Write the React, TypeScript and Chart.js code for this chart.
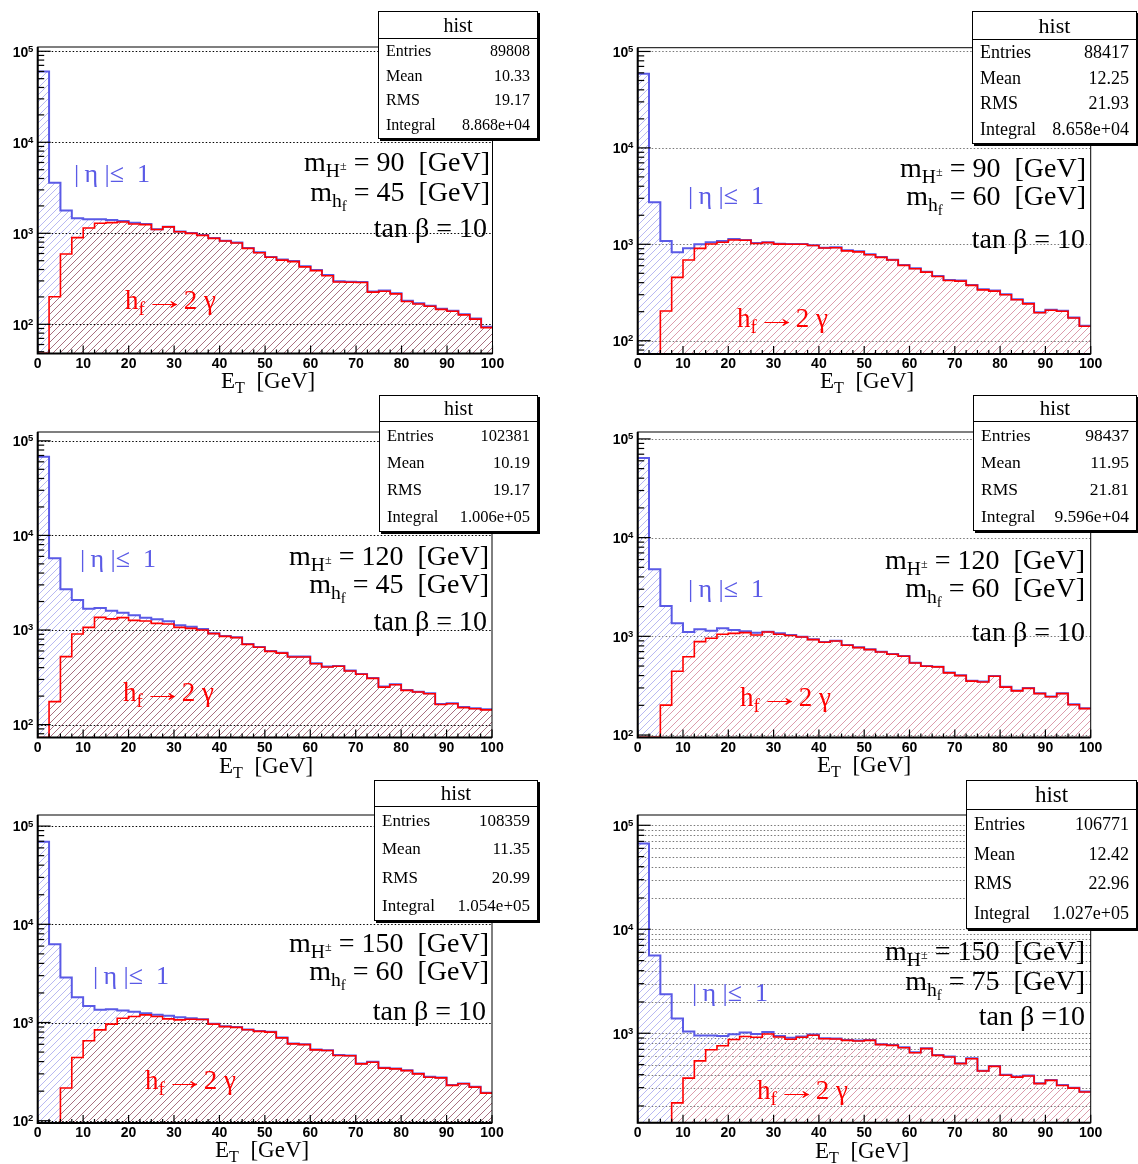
import React, { useEffect, useRef } from 'react';
import { Chart, registerables } from 'chart.js';

Chart.register(...registerables);

// ---------------- data ----------------
const binEdges = [0, 2.5, 5, 7.5, 10, 12.5, 15, 17.5, 20, 22.5, 25, 27.5, 30, 32.5, 35, 37.5, 40, 42.5, 45, 47.5, 50,
  52.5, 55, 57.5, 60, 62.5, 65, 67.5, 70, 72.5, 75, 77.5, 80, 82.5, 85, 87.5, 90, 92.5, 95, 97.5, 100];
const xTickValues = [0, 10, 20, 30, 40, 50, 60, 70, 80, 90, 100];
const xTickLabels = ['0', '10', '20', '30', '40', '50', '60', '70', '80', '90', '100'];
const yDecadeExps = [1, 2, 3, 4, 5];

// |eta| <= 1 (blue) and h_f -> 2 gamma (red), entries per 2.5 GeV bin
const blue1 = [59800, 3600, 1775, 1462, 1425, 1425, 1400, 1366, 1310, 1266, 1106, 1184, 1050, 1008, 958, 889, 830, 790, 690, 620,
  550, 515, 495, 435, 395, 348, 297, 294, 292, 229, 235, 219, 181, 170, 160, 148, 141, 129, 116, 94];
const red1 = [48, 201, 593, 896, 1144, 1288, 1310, 1330, 1266, 1245, 1100, 1178, 1040, 998, 950, 880, 822, 782, 683, 612,
  545, 508, 488, 428, 389, 342, 292, 290, 288, 226, 231, 216, 178, 167, 158, 146, 139, 127, 114, 92];

const blue2 = [58600, 2730, 1083, 826, 908, 1000, 1049, 1083, 1136, 1109, 1030, 1050, 1016, 1010, 1010, 980, 923, 931, 865, 845,
  787, 739, 693, 610, 563, 520, 469, 426, 420, 379, 341, 331, 303, 269, 244, 197, 210, 204, 174, 143];
const red2 = [73, 73, 203, 454, 687, 908, 1008, 1049, 1109, 1100, 1020, 1040, 1005, 1000, 1000, 970, 915, 920, 855, 835,
  780, 732, 686, 604, 557, 514, 464, 421, 415, 375, 337, 327, 300, 266, 241, 195, 207, 202, 172, 141];

const blue3 = [68000, 5720, 2690, 2075, 1680, 1710, 1600, 1524, 1430, 1350, 1296, 1235, 1120, 1085, 1025, 922, 864, 837, 711, 662,
  600, 576, 523, 523, 445, 410, 417, 372, 343, 311, 252, 267, 232, 223, 214, 165, 168, 153, 149, 145];
const red3 = [73, 175, 523, 907, 1067, 1361, 1310, 1350, 1265, 1245, 1176, 1157, 1067, 1041, 1000, 915, 857, 830, 705, 656,
  594, 570, 518, 518, 440, 406, 413, 368, 340, 308, 249, 264, 230, 221, 212, 163, 166, 151, 147, 143];

const blue4 = [64000, 4770, 2028, 1355, 1107, 1178, 1141, 1205, 1160, 1124, 1090, 1115, 1072, 1031, 992, 932, 876, 904, 817, 774,
  738, 699, 662, 632, 541, 501, 493, 429, 403, 355, 348, 397, 309, 282, 300, 265, 246, 265, 205, 187];
const red4 = [95, 95, 201, 442, 622, 883, 955, 1048, 1072, 1090, 1031, 1107, 1048, 1020, 985, 925, 870, 898, 812, 769,
  733, 694, 658, 628, 537, 498, 490, 426, 400, 352, 345, 394, 306, 280, 297, 263, 244, 263, 203, 185];

const blue5 = [69300, 6270, 2870, 1810, 1476, 1345, 1366, 1325, 1284, 1244, 1197, 1169, 1133, 1107, 1081, 969, 915, 900, 850, 820,
  805, 704, 612, 602, 532, 523, 466, 462, 383, 398, 346, 340, 327, 303, 280, 276, 231, 240, 222, 193];
const red5 = [95, 95, 215, 441, 651, 841, 962, 1107, 1151, 1197, 1151, 1090, 1064, 1081, 1075, 962, 908, 893, 843, 813,
  798, 698, 606, 596, 527, 518, 462, 458, 379, 394, 343, 337, 324, 300, 277, 273, 229, 238, 220, 191];

const blue6 = [67000, 5610, 2376, 1384, 1040, 950, 950, 943, 980, 1015, 985, 1030, 940, 905, 929, 975, 895, 889, 863, 850,
  863, 784, 772, 733, 656, 718, 619, 597, 515, 575, 437, 485, 398, 383, 392, 331, 356, 318, 300, 275];
const red6 = [138, 138, 138, 214, 370, 543, 695, 758, 870, 930, 915, 985, 922, 875, 915, 956, 885, 880, 855, 842,
  855, 777, 765, 726, 650, 711, 613, 591, 510, 569, 433, 480, 394, 379, 388, 328, 352, 315, 297, 272];

const blueSeries = [blue1, blue2, blue3, blue4, blue5, blue6];
const redSeries = [red1, red2, red3, red4, red5, red6];

const yMins = [47.8, 72.8, 73, 94.4, 94.8, 138];
const yMaxs = [111400, 109400, 124000, 117500, 129700, 125600];

const statEntries = ['89808', '88417', '102381', '98437', '108359', '106771'];
const statMean = ['10.33', '12.25', '10.19', '11.95', '11.35', '12.42'];
const statRMS = ['19.17', '21.93', '19.17', '21.81', '20.99', '22.96'];
const statIntegral = ['8.868e+04', '8.658e+04', '1.006e+05', '9.596e+04', '1.054e+05', '1.027e+05'];
const massHc = ['90', '90', '120', '120', '150', '150'];
const massHf = ['45', '60', '45', '60', '60', '75'];
const tanBetaText = ['tan β = 10', 'tan β = 10', 'tan β = 10', 'tan β = 10', 'tan β = 10', 'tan β =10'];

// ---------------- layout ----------------
const W = 1138, H = 1164, PW = 569, PH = 388;
const frames = [
  { l: 37.7, r: 492.5, t: 47, b: 353.5 },
  { l: 637.7, r: 1090.7, t: 47.7, b: 354 },
  { l: 37.7, r: 492, t: 432, b: 737.5 },
  { l: 637.7, r: 1090.7, t: 432, b: 737.5 },
  { l: 37.7, r: 492, t: 815, b: 1123 },
  { l: 637.7, r: 1090.7, t: 815, b: 1122.7 },
];
const statBoxes = [
  { x: 378, y: 10.5, w: 160, h: 128, hh: 26, fs: 16, hfs: 20 },
  { x: 972, y: 10.5, w: 165, h: 133, hh: 27, fs: 18, hfs: 22 },
  { x: 379, y: 395, w: 159, h: 137, hh: 25, fs: 16.5, hfs: 20 },
  { x: 973, y: 395, w: 164, h: 136, hh: 25, fs: 17.5, hfs: 21 },
  { x: 374, y: 780, w: 164, h: 141, hh: 25, fs: 17, hfs: 21 },
  { x: 966, y: 780, w: 171, h: 149, hh: 28, fs: 18, hfs: 23 },
];
// [right edge, baseline] for mass lines; [left, baseline] for labels
const textPos = [
  { mH: [490, 171], mh: [490, 201], tan: [487, 237], eta: [74, 183], hf: [125, 310], et: [221, 388] },
  { mH: [1086, 177], mh: [1086, 205], tan: [1085, 248], eta: [688, 205], hf: [737, 328], et: [820, 388] },
  { mH: [489, 565], mh: [489, 593], tan: [487, 630], eta: [80, 568], hf: [123, 702], et: [219, 773] },
  { mH: [1085, 569], mh: [1085, 597], tan: [1085, 641], eta: [688, 598], hf: [740, 707], et: [817, 772] },
  { mH: [489, 952], mh: [489, 980], tan: [486, 1020], eta: [93, 985], hf: [145, 1090], et: [215, 1157] },
  { mH: [1085, 960], mh: [1085, 990], tan: [1085, 1025], eta: [692, 1002], hf: [757, 1100], et: [815, 1158] },
];
const gridColors = ['#000', '#777', '#000', '#777', '#000', '#777'];
const redHatchColors = ['#a87080', '#dc9cac', '#a87080', '#dc9cac', '#a87080', '#dc9cac'];
const minorGrid = [false, false, false, false, false, true];

const BLUE = '#5a5ae6';
const RED = '#ff0000';
const SERIF = '"Liberation Serif", "DejaVu Serif", "Times New Roman", serif';
const SANS = '"Liberation Sans", Arial, Helvetica, sans-serif';

function makeHatch(ctx: CanvasRenderingContext2D, color: string, s: number) {
  const c = document.createElement('canvas');
  c.width = s; c.height = s;
  const g = c.getContext('2d')!;
  g.strokeStyle = color;
  g.lineWidth = 1;
  g.beginPath();
  g.moveTo(0, s); g.lineTo(s, 0);
  g.moveTo(-s, s); g.lineTo(s, -s);
  g.moveTo(0, 2 * s); g.lineTo(2 * s, 0);
  g.stroke();
  return ctx.createPattern(c, 'repeat');
}

function toPoints(vals: number[]) {
  const pts = vals.map((v, i) => ({ x: binEdges[i], y: v }));
  pts.push({ x: binEdges[binEdges.length - 1], y: vals[vals.length - 1] });
  return pts;
}

function rootPlugin(i: number) {
  return {
    id: 'rootFrame' + i,
    beforeDatasetsDraw(chart: any) {
      const { ctx, chartArea: a, scales } = chart;
      const y = scales.y;
      ctx.save();
      ctx.beginPath();
      ctx.rect(a.left, a.top, a.right - a.left, a.bottom - a.top);
      ctx.clip();
      ctx.strokeStyle = gridColors[i];
      ctx.lineWidth = 1;
      ctx.setLineDash([1.5, 2]);
      yDecadeExps.forEach((e) => {
        const mults = minorGrid[i] ? [1, 2, 3, 4, 5, 6, 7, 8, 9] : [1];
        mults.forEach((m) => {
          const v = m * Math.pow(10, e);
          if (v <= yMins[i] || v >= yMaxs[i]) return;
          const py = Math.round(y.getPixelForValue(v)) + 0.5;
          ctx.beginPath();
          ctx.moveTo(a.left, py);
          ctx.lineTo(a.right, py);
          ctx.stroke();
        });
      });
      ctx.restore();
    },
    afterDatasetsDraw(chart: any) {
      const { ctx, chartArea: a, scales } = chart;
      const x = scales.x, y = scales.y;
      ctx.save();
      ctx.strokeStyle = '#000';
      ctx.fillStyle = '#000';
      ctx.lineWidth = 1;
      ctx.strokeRect(a.left, a.top, a.right - a.left, a.bottom - a.top);
      ctx.lineWidth = 2;
      ctx.beginPath();
      ctx.moveTo(a.left, a.top); ctx.lineTo(a.left, a.bottom); ctx.lineTo(a.right, a.bottom);
      ctx.stroke();
      ctx.lineWidth = 1.2;
      yDecadeExps.forEach((e) => {
        [1, 2, 3, 4, 5, 6, 7, 8, 9].forEach((m) => {
          const v = m * Math.pow(10, e);
          if (v < yMins[i] || v > yMaxs[i]) return;
          const py = y.getPixelForValue(v);
          const len = m === 1 ? 13 : 6.5;
          ctx.beginPath();
          ctx.moveTo(a.left, py); ctx.lineTo(a.left + len, py);
          ctx.stroke();
        });
      });
      binEdges.forEach((v) => {
        const px = x.getPixelForValue(v);
        const len = v % 10 === 0 ? 8 : 4;
        ctx.beginPath();
        ctx.moveTo(px, a.bottom); ctx.lineTo(px, a.bottom - len);
        ctx.stroke();
      });
      ctx.font = 'bold 14px ' + SANS;
      ctx.textAlign = 'center';
      ctx.textBaseline = 'top';
      xTickValues.forEach((v, k) => {
        ctx.fillText(xTickLabels[k], x.getPixelForValue(v), a.bottom + 3.5);
      });
      yDecadeExps.forEach((e) => {
        const v = Math.pow(10, e);
        if (v < yMins[i] || v > yMaxs[i]) return;
        const py = y.getPixelForValue(v);
        ctx.font = 'bold 14px ' + SANS;
        ctx.textAlign = 'right';
        ctx.textBaseline = 'middle';
        ctx.fillText('10', a.left - 9.4, py + 1.5);
        ctx.font = 'bold 9.5px ' + SANS;
        ctx.textBaseline = 'alphabetic';
        ctx.fillText(String(e), a.left - 4.5, py + 0.5);
      });
      ctx.restore();
    },
  };
}

function Panel({ i }: { i: number }) {
  const ref = useRef<HTMLCanvasElement | null>(null);
  const ox = (i % 2) * PW;
  const oy = Math.floor(i / 2) * PH;
  useEffect(() => {
    const canvas = ref.current!;
    const ctx = canvas.getContext('2d')!;
    const f = frames[i];
    const blueHatch = makeHatch(ctx, '#b8b8f2', 7);
    const redHatch = makeHatch(ctx, redHatchColors[i], 7);
    const chart = new Chart(canvas, {
      type: 'line',
      data: {
        datasets: [
          {
            label: 'h_f -> 2 gamma',
            data: toPoints(redSeries[i]),
            borderColor: RED,
            borderWidth: 1.6,
            stepped: true,
            pointRadius: 0,
            fill: 'start',
            backgroundColor: redHatch as any,
            order: 0,
          },
          {
            label: '|eta| <= 1',
            data: toPoints(blueSeries[i]),
            borderColor: BLUE,
            borderWidth: 2,
            stepped: true,
            pointRadius: 0,
            fill: 'start',
            backgroundColor: blueHatch as any,
            order: 1,
          },
        ],
      },
      options: {
        animation: false,
        responsive: false,
        devicePixelRatio: 1,
        events: [],
        layout: {
          padding: { left: f.l - ox, top: f.t - oy, right: ox + PW - f.r, bottom: oy + PH - f.b },
        },
        plugins: { legend: { display: false }, tooltip: { enabled: false } },
        scales: {
          x: { type: 'linear', min: 0, max: 100, display: false },
          y: { type: 'logarithmic', min: yMins[i], max: yMaxs[i], display: false },
        },
      } as any,
      plugins: [rootPlugin(i) as any],
    });
    return () => chart.destroy();
  }, [i]);
  return (
    <canvas
      ref={ref}
      width={PW}
      height={PH}
      style={{ position: 'absolute', left: ox, top: oy, width: PW, height: PH }}
    />
  );
}

const Sub = ({ children, s = 0.7, dy = 0.32 }: any) => (
  <span style={{ fontSize: s + 'em', position: 'relative', top: dy + 'em' }}>{children}</span>
);
const Sup = ({ children, s = 0.62, dy = -0.55 }: any) => (
  <span style={{ fontSize: s + 'em', position: 'relative', top: dy + 'em' }}>{children}</span>
);
const Arrow = () => (
  <span style={{ display: 'inline-block', transform: 'scaleX(1.55)', margin: '0 0.22em' }}>→</span>
);

function Txt({ left, right, base, size, color = '#000', children }: any) {
  const style: any = {
    position: 'absolute',
    top: base - 0.8375 * size,
    fontSize: size,
    lineHeight: size + 'px',
    fontFamily: SERIF,
    color,
    whiteSpace: 'pre',
  };
  if (right !== undefined) style.right = W - right;
  else style.left = left;
  return <div style={style}>{children}</div>;
}

function Stats({ i }: { i: number }) {
  const b = statBoxes[i];
  const rows = [
    ['Entries', statEntries[i]],
    ['Mean', statMean[i]],
    ['RMS', statRMS[i]],
    ['Integral', statIntegral[i]],
  ];
  const rh = (b.h - b.hh - 3) / 4;
  return (
    <div
      style={{
        position: 'absolute', left: b.x, top: b.y, width: b.w, height: b.h, boxSizing: 'border-box',
        border: '1px solid #000', background: '#fff', boxShadow: '2px 2px 0 #000', fontFamily: SERIF, color: '#000',
      }}
    >
      <div style={{ height: b.hh, lineHeight: b.hh + 'px', textAlign: 'center', fontSize: b.hfs, borderBottom: '1px solid #000' }}>
        hist
      </div>
      {rows.map((r) => (
        <div
          key={r[0]}
          style={{ height: rh, display: 'flex', justifyContent: 'space-between', alignItems: 'center', padding: '0 7px', fontSize: b.fs }}
        >
          <span>{r[0]}</span>
          <span>{r[1]}</span>
        </div>
      ))}
    </div>
  );
}

function Annotations({ i }: { i: number }) {
  const p = textPos[i];
  return (
    <>
      <Txt right={p.mH[0]} base={p.mH[1]} size={28}>
        m<Sub>H<Sup>±</Sup></Sub> = {massHc[i]}  [GeV]
      </Txt>
      <Txt right={p.mh[0]} base={p.mh[1]} size={28}>
        m<Sub>h<Sub s={0.75} dy={0.3}>f</Sub></Sub> = {massHf[i]}  [GeV]
      </Txt>
      <Txt right={p.tan[0]} base={p.tan[1]} size={28}>
        {tanBetaText[i]}
      </Txt>
      <Txt left={p.eta[0]} base={p.eta[1]} size={26} color={BLUE}>
        {'|\u2009η\u2005|≤\u20021'}
      </Txt>
      <Txt left={p.hf[0]} base={p.hf[1]} size={27} color={RED}>
        h<Sub>f</Sub>
        <Arrow />2 γ
      </Txt>
      <Txt left={p.et[0]} base={p.et[1]} size={23}>
        E<Sub>T</Sub>  [GeV]
      </Txt>
    </>
  );
}

export default function App() {
  const idx = [0, 1, 2, 3, 4, 5];
  return (
    <div style={{ position: 'absolute', left: 0, top: 0, width: W, height: H, overflow: 'hidden', background: '#fff' }}>
      {idx.map((i) => (
        <Panel key={'p' + i} i={i} />
      ))}
      {idx.map((i) => (
        <Annotations key={'a' + i} i={i} />
      ))}
      {idx.map((i) => (
        <Stats key={'s' + i} i={i} />
      ))}
    </div>
  );
}
